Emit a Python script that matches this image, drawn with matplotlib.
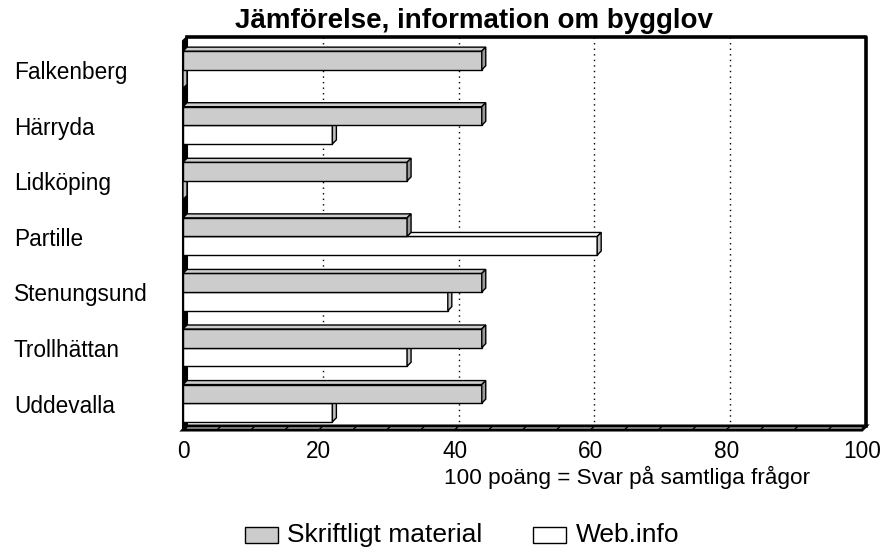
import matplotlib
matplotlib.use("Agg")
import matplotlib.pyplot as plt
from matplotlib.patches import Polygon, Rectangle
from matplotlib.transforms import blended_transform_factory

plt.rcParams['font.family'] = ['Liberation Sans', 'DejaVu Sans']

categories = ["Falkenberg", "Härryda", "Lidköping", "Partille", "Stenungsund", "Trollhättan", "Uddevalla"]
skriftligt = [44, 44, 33, 33, 44, 44, 44]
webinfo = [0, 22, 0, 61, 39, 33, 22]
series_names = ["Skriftligt material", "Web.info"]
xticks = [0, 20, 40, 60, 80, 100]
title = "Jämförelse, information om bygglov"
xlabel = "100 poäng = Svar på samtliga frågor"

W, H = 882, 552
fig = plt.figure(figsize=(W / 100, H / 100), dpi=100)
L, R, T, B = 183, 862, 41, 430
ax = fig.add_axes([L / W, 1 - B / H, (R - L) / W, (B - T) / H])
ax.set_xlim(0, 100)
n = len(categories)
ax.set_ylim(n - 0.5, -0.5)
ax.axis('off')

ux = 100 / (R - L)
uy = n / (B - T)
dx = 4 * ux
dy = 4 * uy
y0, y1 = -0.5, n - 0.5

# back wall / frame
ax.plot([dx, 100 + dx, 100 + dx], [y0 - dy, y0 - dy, y1 - dy], color='black', lw=2.6,
        solid_capstyle='projecting', clip_on=False, zorder=1)
# left side wall
ax.add_patch(Polygon([(0, y0), (dx, y0 - dy), (dx, y1 - dy), (0, y1)], closed=True,
                     facecolor='black', edgecolor='black', lw=1.5, clip_on=False, zorder=1))
# floor
ax.add_patch(Polygon([(0, y1), (100, y1), (100 + dx, y1 - dy), (dx, y1 - dy)], closed=True,
                     facecolor='white', edgecolor='black', lw=2.2, clip_on=False, zorder=1))
for v in range(0, 101, 5):
    ax.plot([v, v + dx], [y1, y1 - dy], color='black', lw=1.0, clip_on=False, zorder=1)
# dotted gridlines on back wall
for v in xticks[1:-1]:
    ax.plot([v + dx, v + dx], [y0 - dy, y1 - dy], color='black', lw=1.0,
            linestyle=(0, (1, 3)), clip_on=False, zorder=0.5)

h = 0.335
offsets = [-0.15, 0.185]
styles = [
    dict(front='#CCCCCC', top='#CCCCCC', side='#999999'),
    dict(front='#FFFFFF', top='#FFFFFF', side='#C0C0C0'),
]
values = [skriftligt, webinfo]


def bar3d(c, v, st, z):
    ytop = c - h / 2
    ybot = c + h / 2
    ax.add_patch(Polygon([(0, ybot), (0, ytop), (v, ytop), (v, ybot)], closed=True,
                         facecolor=st['front'], edgecolor='black', lw=1.0, zorder=z, clip_on=False))
    ax.add_patch(Polygon([(0, ytop), (v, ytop), (v + dx, ytop - dy), (dx, ytop - dy)], closed=True,
                         facecolor=st['top'], edgecolor='black', lw=1.0, zorder=z, clip_on=False))
    ax.add_patch(Polygon([(v, ytop), (v, ybot), (v + dx, ybot - dy), (v + dx, ytop - dy)], closed=True,
                         facecolor=st['side'], edgecolor='black', lw=1.0, zorder=z, clip_on=False))


for i in range(n):
    # white (lower) first, then grey
    bar3d(i + offsets[1], values[1][i], styles[1], 2 + i * 0.1)
    bar3d(i + offsets[0], values[0][i], styles[0], 2 + i * 0.1 + 0.05)

# category labels
tr = blended_transform_factory(fig.transFigure, ax.transData)
for i, c in enumerate(categories):
    ax.text(14 / W, i + 0.07, c, transform=tr, ha='left', va='center', fontsize=16.3)

# tick labels
for v in xticks:
    fig.text((L + v * (R - L) / 100) / W, 1 - 452 / H, str(v), ha='center', va='center', fontsize=16.3)

fig.text(627 / W, 1 - 477 / H, xlabel, ha='center', va='center', fontsize=16.2)
fig.text(474 / W, 1 - 21 / H, title, ha='center', va='center', fontsize=20, fontweight='bold')

# legend
leg_items = [(245, series_names[0], '#CCCCCC', 287), (533, series_names[1], '#FFFFFF', 576)]
for bx, label, col, tx in leg_items:
    fig.patches.append(Rectangle((bx / W, 1 - 543 / H), 33 / W, 16 / H, transform=fig.transFigure,
                                 facecolor=col, edgecolor='black', lw=1.0))
    fig.text(tx / W, 1 - 535 / H, label, ha='left', va='center', fontsize=19)

fig.savefig("out.png", dpi=100)
